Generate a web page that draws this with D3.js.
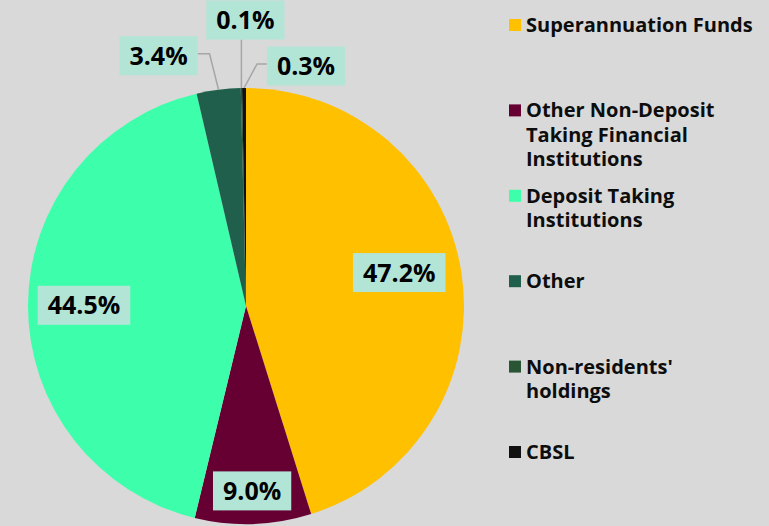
<!DOCTYPE html>
<html>
<head>
<meta charset="utf-8">
<script src="https://cdn.jsdelivr.net/npm/d3@7"></script>
<style>
  html, body { margin: 0; padding: 0; background: #d9d9d9; }
  svg { display: block; }
  text { font-family: "Segoe UI", "Open Sans", sans-serif; font-weight: bold; }
</style>
</head>
<body>
<svg id="chart" width="769" height="526"></svg>
<script>
// data
var categories = ["Superannuation Funds", "Other Non-Deposit Taking Financial Institutions",
  "Deposit Taking Institutions", "Other", "Non-residents' holdings", "CBSL"];
var values = [47.2, 9.0, 44.5, 3.4, 0.1, 0.3];
var colors = ["#ffc000", "#660033", "#3dffab", "#1f5f4c", "#2a5535", "#111111"];
// legend text broken into lines as in the original
var legendLines = [["Superannuation Funds"], ["Other Non-Deposit", "Taking Financial", "Institutions"],
  ["Deposit Taking", "Institutions"], ["Other"], ["Non-residents'", "holdings"], ["CBSL"]];

render();

function render() {
  var svg = d3.select("#chart");
  var cx = 246, cy = 306, radius = 218;

  var pie = d3.pie().sort(null).value(function(d) { return d; });
  var arc = d3.arc().innerRadius(0).outerRadius(radius);
  var arcs = pie(values);

  var g = svg.append("g").attr("transform", "translate(" + cx + "," + cy + ")");

  g.selectAll("path")
    .data(arcs)
    .enter().append("path")
      .attr("d", arc)
      .attr("fill", function(d, i) { return colors[i]; });

  // label placement: inside ones by radius, outside ones by offset from the rim
  var labelPos = [
    { r: 155, ady: -10 }, { r: 185, ady: 0 }, { r: 162, ady: 0 },
    { dx: -60, dy: -34, bend: [-9, -36], side: "right" },
    { dx: 4, dy: -68, bend: null, side: "bottom" },
    { dx: 62, dy: -22, bend: [13, -24], side: "left" }
  ];

  function rimPoint(d, r) {
    var a = (d.startAngle + d.endAngle) / 2;
    return [Math.sin(a) * r, -Math.cos(a) * r];
  }

  var labels = g.selectAll("g.lbl")
    .data(arcs)
    .enter().append("g")
      .attr("class", "lbl");

  labels.each(function(d, i) {
    var el = d3.select(this);
    var p = labelPos[i];
    var pos, rim;
    if (p.r) {
      pos = rimPoint(d, p.r);
      pos[1] += p.ady;
    } else {
      rim = rimPoint(d, radius);
      pos = [rim[0] + p.dx, rim[1] + p.dy];
    }

    var rect = el.append("rect").attr("fill", "#b3e5d7");
    var t = el.append("text")
      .attr("x", pos[0])
      .attr("y", pos[1])
      .attr("dy", "0.36em")
      .attr("text-anchor", "middle")
      .attr("font-size", 25)
      .attr("fill", "#000")
      .text(d3.format(".1f")(values[i]) + "%");

    var bb = t.node().getBBox();
    var w = bb.width + 20, h = 39;
    rect.attr("x", pos[0] - w / 2).attr("y", pos[1] - h / 2)
      .attr("width", w).attr("height", h);

    if (!p.r) {
      var pts = [rim];
      if (p.bend) pts.push([rim[0] + p.bend[0], rim[1] + p.bend[1]]);
      var end;
      if (p.side == "right") end = [pos[0] + w / 2, rim[1] + p.bend[1]];
      else if (p.side == "left") end = [pos[0] - w / 2, rim[1] + p.bend[1]];
      else end = [rim[0], pos[1] + h / 2];
      pts.push(end);
      el.insert("path", "rect")
        .attr("d", d3.line()(pts))
        .attr("fill", "none")
        .attr("stroke", "#a6a6a6")
        .attr("stroke-width", 1.5);
    }
  });

  // legend
  var legend = svg.append("g").attr("class", "legend");
  var ly = d3.scaleLinear().domain([0, categories.length - 1]).range([25, 452]);

  var item = legend.selectAll("g")
    .data(categories)
    .enter().append("g")
      .attr("transform", function(d, i) { return "translate(509," + ly(i) + ")"; });

  item.append("rect")
    .attr("x", 0).attr("y", -6)
    .attr("width", 12).attr("height", 12)
    .attr("fill", function(d, i) { return colors[i]; });

  item.append("text")
    .attr("x", 17)
    .attr("y", 7)
    .attr("font-size", 20)
    .attr("fill", "#0d0d0d")
    .selectAll("tspan")
    .data(function(d, i) { return legendLines[i]; })
    .enter().append("tspan")
      .attr("x", 17)
      .attr("dy", function(d, j) { return j == 0 ? 0 : 24.5; })
      .text(function(d) { return d; });
}
</script>
</body>
</html>
